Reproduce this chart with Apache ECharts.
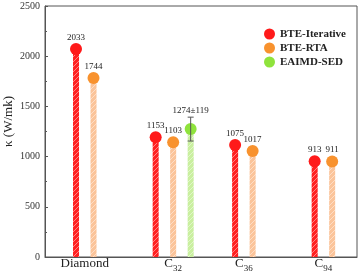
<!DOCTYPE html>
<html>
<head>
<meta charset="utf-8">
<script src="https://cdn.jsdelivr.net/npm/echarts@6/dist/echarts.min.js"></script>
<style>
html,body{margin:0;padding:0;background:#fff;}
#c{width:360px;height:275px;}
</style>
</head>
<body>
<div id="c"></div>
<script>
// ---- data ----
const categories = ['Diamond', 'C32', 'C36', 'C94'];
const catPos = [1, 2, 2.8, 3.7];
const seriesNames = ['BTE-Iterative', 'BTE-RTA', 'EAIMD-SED'];
const bteIterative = [2033, 1153, 1075, 913];
const bteRTA = [1744, 1103, 1017, 911];
const eaimdSED = [null, 1274, null, null];
const eaimdErr = [null, 119, null, null];
const yTicks = [0, 500, 1000, 1500, 2000, 2500];

// ---- styles ----
const SERIF = '"Liberation Serif", "DejaVu Serif", serif';
const dotColors = ['#ff1a1a', '#f8922e', '#8fe33c'];
const stemColors = ['#ff2020', '#fbc49a', '#c9ef9f'];
const allSeries = [bteIterative, bteRTA, eaimdSED];

function hatch(color) {
  const c = document.createElement('canvas');
  c.width = 5; c.height = 5;
  const g = c.getContext('2d');
  g.fillStyle = color; g.fillRect(0, 0, 5, 5);
  g.strokeStyle = 'rgba(255,255,255,0.5)';
  g.lineWidth = 0.9;
  g.beginPath();
  g.moveTo(-1, 6); g.lineTo(6, -1);
  g.stroke();
  return { image: c, repeat: 'repeat' };
}
const patterns = stemColors.map(hatch);

function makeRender(s) {
  return function (params, api) {
    const i = api.value(2);
    const v = api.value(1);
    const present = [];
    allSeries.forEach((arr, k) => { if (arr[i] != null) present.push(k); });
    const slot = present.indexOf(s);
    const n = present.length;
    const off = (slot - (n - 1) / 2) * 17.5;
    const p = api.coord([catPos[i], v]);
    const base = api.coord([catPos[i], 0]);
    const cx = p[0] + off;
    const cy = p[1] + (s < 2 ? -4 : 0);
    const children = [];
    children.push({
      type: 'rect',
      shape: { x: cx - 3, y: cy, width: 6, height: base[1] - cy },
      style: { fill: patterns[s] }
    });
    let labelY = cy - 11.5;
    let txt = String(v);
    children.push({
      type: 'circle',
      shape: { cx: cx, cy: cy, r: 6 },
      style: { fill: dotColors[s] },
      z2: 5
    });
    if (s === 2 && eaimdErr[i] != null) {
      const e = eaimdErr[i];
      const top = api.coord([catPos[i], v + e])[1];
      const bot = api.coord([catPos[i], v - e])[1];
      const ec = '#555';
      children.push({ type: 'line', shape: { x1: cx, y1: top, x2: cx, y2: bot }, style: { stroke: ec, lineWidth: 1 }, z2: 6 });
      children.push({ type: 'line', shape: { x1: cx - 3, y1: top, x2: cx + 3, y2: top }, style: { stroke: ec, lineWidth: 1 }, z2: 6 });
      children.push({ type: 'line', shape: { x1: cx - 3, y1: bot, x2: cx + 3, y2: bot }, style: { stroke: ec, lineWidth: 1 }, z2: 6 });
      labelY = top - 7;
      txt = v + '±' + e;
    }
    children.push({
      type: 'text',
      x: cx, y: labelY,
      style: {
        text: txt, fill: '#222', font: '9px ' + SERIF,
        align: 'center', verticalAlign: 'middle',
        textAlign: 'center', textVerticalAlign: 'middle'
      },
      z2: 7
    });
    return { type: 'group', children: children };
  };
}

const series = allSeries.map((arr, s) => ({
  name: seriesNames[s],
  type: 'custom',
  renderItem: makeRender(s),
  itemStyle: { color: dotColors[s] },
  encode: { x: 0, y: 1 },
  data: arr.map((v, i) => v == null ? null : [catPos[i], v, i]).filter(d => d)
}));

const chart = echarts.init(document.getElementById('c'), null, { renderer: 'canvas' });
chart.setOption({
  animation: false,
  backgroundColor: '#fff',
  grid: {
    left: 45, right: 3, top: 6, bottom: 18, containLabel: false, outerBoundsMode: 'none',
    show: true, borderColor: '#555', borderWidth: 1, backgroundColor: 'transparent'
  },
  legend: {
    orient: 'vertical', left: 259, top: 23,
    icon: 'circle', itemWidth: 11, itemHeight: 11, itemGap: 2,
    data: seriesNames,
    textStyle: { fontFamily: SERIF, fontWeight: 'bold', fontSize: 11, color: '#222', lineHeight: 12 }
  },
  xAxis: {
    type: 'value', min: 0.55, max: 4.08,
    axisLine: { show: true, lineStyle: { color: '#555', width: 1 } },
    axisTick: { show: false },
    splitLine: { show: false },
    axisLabel: {
      customValues: catPos,
      margin: 0,
      formatter: function (val) {
        let idx = catPos.findIndex(x => Math.abs(x - val) < 1e-6);
        if (idx < 0) return '';
        const name = categories[idx];
        const m = name.match(/^([A-Za-z]+?)(\d+)$/);
        if (m) return '{m|' + m[1] + '}{s|' + m[2] + '}';
        return '{m|' + name + '}';
      },
      rich: {
        m: { fontFamily: SERIF, fontSize: 13, color: '#222', lineHeight: 14 },
        s: { fontFamily: SERIF, fontSize: 9, color: '#222', lineHeight: 9, padding: [9, 0, 0, 0] }
      }
    }
  },
  yAxis: {
    type: 'value', min: yTicks[0], max: yTicks[yTicks.length - 1], interval: 500,
    name: 'κ (W/mk)', nameLocation: 'middle', nameGap: 30, nameRotate: 90, nameMoveOverlap: false,
    nameTextStyle: { fontFamily: SERIF, fontSize: 13, color: '#222', padding: [0, 0, 0, 20] },
    axisLine: { show: true, lineStyle: { color: '#555', width: 1 } },
    axisTick: { show: true, inside: true, length: 3, lineStyle: { color: '#555' } },
    minorTick: { show: true, splitNumber: 2, length: 2, lineStyle: { color: '#555' } },
    splitLine: { show: false },
    axisLabel: { fontFamily: SERIF, fontSize: 10, color: '#333', margin: 5, formatter: function (v) { return String(v); } }
  },
  series: series
});
</script>
</body>
</html>
